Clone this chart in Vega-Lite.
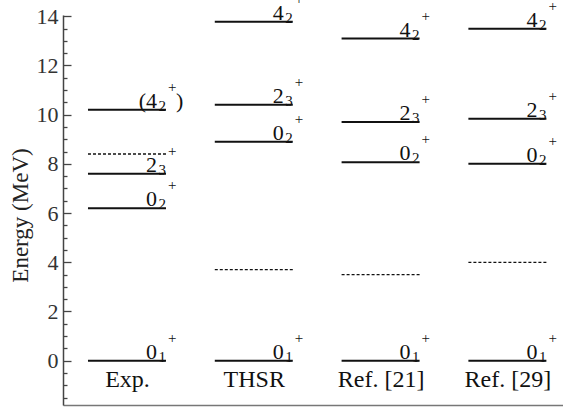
{
  "$schema": "https://vega.github.io/schema/vega-lite/v6.json",
  "width": 500,
  "height": 390,
  "autosize": {"type": "none"},
  "padding": {"left": 63, "top": 15, "right": 0, "bottom": 3},
  "background": "white",
  "config": {"view": {"stroke": null}, "font": "Liberation Serif"},
  "data": {
    "values": [
      {"model": "Exp.", "E": 0, "kind": "solid", "main": "0", "sub": "1", "sup": "+"},
      {"model": "Exp.", "E": 6.2, "kind": "solid", "main": "0", "sub": "2", "sup": "+"},
      {"model": "Exp.", "E": 7.6, "kind": "solid", "main": "2", "sub": "3", "sup": "+"},
      {"model": "Exp.", "E": 8.4, "kind": "dashed"},
      {"model": "Exp.", "E": 10.2, "kind": "solid", "main": "(4", "sub": "2", "sup": "+", "close": ")"},
      {"model": "THSR", "E": 0, "kind": "solid", "main": "0", "sub": "1", "sup": "+"},
      {"model": "THSR", "E": 3.7, "kind": "dashed"},
      {"model": "THSR", "E": 8.9, "kind": "solid", "main": "0", "sub": "2", "sup": "+"},
      {"model": "THSR", "E": 10.4, "kind": "solid", "main": "2", "sub": "3", "sup": "+"},
      {"model": "THSR", "E": 13.78, "kind": "solid", "main": "4", "sub": "2", "sup": "+"},
      {"model": "Ref. [21]", "E": 0, "kind": "solid", "main": "0", "sub": "1", "sup": "+"},
      {"model": "Ref. [21]", "E": 3.5, "kind": "dashed"},
      {"model": "Ref. [21]", "E": 8.07, "kind": "solid", "main": "0", "sub": "2", "sup": "+"},
      {"model": "Ref. [21]", "E": 9.7, "kind": "solid", "main": "2", "sub": "3", "sup": "+"},
      {"model": "Ref. [21]", "E": 13.09, "kind": "solid", "main": "4", "sub": "2", "sup": "+"},
      {"model": "Ref. [29]", "E": 0, "kind": "solid", "main": "0", "sub": "1", "sup": "+"},
      {"model": "Ref. [29]", "E": 4.0, "kind": "dashed"},
      {"model": "Ref. [29]", "E": 8.0, "kind": "solid", "main": "0", "sub": "2", "sup": "+"},
      {"model": "Ref. [29]", "E": 9.83, "kind": "solid", "main": "2", "sub": "3", "sup": "+"},
      {"model": "Ref. [29]", "E": 13.49, "kind": "solid", "main": "4", "sub": "2", "sup": "+"}
    ]
  },
  "encoding": {
    "x": {
      "field": "model",
      "type": "nominal",
      "sort": ["Exp.", "THSR", "Ref. [21]", "Ref. [29]"],
      "scale": {"type": "point", "padding": 0.4716, "align": 0.535},
      "axis": {
        "title": null,
        "orient": "bottom",
        "domain": true,
        "domainColor": "#777777",
        "domainWidth": 1.5,
        "ticks": false,
        "labelAngle": 0,
        "labelPadding": -19,
        "labelBaseline": "alphabetic",
        "labelFont": "Liberation Serif",
        "labelFontSize": 24,
        "labelColor": "#111111",
        "grid": false
      }
    },
    "y": {
      "field": "E",
      "type": "quantitative",
      "scale": {"domain": [-1.8, 14.05], "nice": false, "zero": false},
      "axis": {
        "orient": "left",
        "values": [-1.5, -1, -0.5, 0, 0.5, 1, 1.5, 2, 2.5, 3, 3.5, 4, 4.5, 5, 5.5, 6, 6.5, 7, 7.5, 8, 8.5, 9, 9.5, 10, 10.5, 11, 11.5, 12, 12.5, 13, 13.5, 14],
        "labelExpr": "datum.value % 2 == 0 ? format(datum.value, 'd') : ''",
        "labelOverlap": false,
        "title": "Energy (MeV)",
        "titleFont": "Liberation Serif",
        "titleFontSize": 23,
        "titleFontWeight": "normal",
        "titleColor": "#222222",
        "titlePadding": 4,
        "titleY": 200,
        "tickSize": {"condition": {"test": "datum.value % 2 == 0", "value": -8}, "value": -4},
        "tickColor": "#444444",
        "tickWidth": 1.3,
        "labelPadding": 13,
        "labelFont": "Liberation Serif",
        "labelFontSize": 22,
        "labelColor": "#333333",
        "domainColor": "#444444",
        "domainWidth": 1.5,
        "grid": false
      }
    }
  },
  "layer": [
    {
      "transform": [{"filter": "datum.kind == 'solid'"}],
      "mark": {"type": "rule", "strokeWidth": 2, "color": "#111111", "xOffset": -39, "x2Offset": 39},
      "encoding": {"x2": {"field": "model"}}
    },
    {
      "transform": [{"filter": "datum.kind == 'dashed'"}],
      "mark": {"type": "rule", "strokeWidth": 1.3, "strokeDash": [3, 2], "color": "#111111", "xOffset": -39, "x2Offset": 39},
      "encoding": {"x2": {"field": "model"}}
    },
    {
      "transform": [{"filter": "datum.main != null"}],
      "mark": {"type": "text", "align": "right", "baseline": "alphabetic", "dx": 30, "dy": -2, "fontSize": 22, "font": "Liberation Serif", "color": "#111111"},
      "encoding": {"text": {"field": "main", "type": "nominal"}}
    },
    {
      "transform": [{"filter": "datum.sub != null"}],
      "mark": {"type": "text", "align": "right", "baseline": "alphabetic", "dx": 39, "dy": 1, "fontSize": 15, "font": "Liberation Serif", "color": "#111111"},
      "encoding": {"text": {"field": "sub", "type": "nominal"}}
    },
    {
      "transform": [{"filter": "datum.sup != null"}],
      "mark": {"type": "text", "align": "left", "baseline": "alphabetic", "dx": 41, "dy": -18, "fontSize": 15, "font": "Liberation Serif", "color": "#111111"},
      "encoding": {"text": {"field": "sup", "type": "nominal"}}
    },
    {
      "transform": [{"filter": "datum.close != null"}],
      "mark": {"type": "text", "align": "left", "baseline": "alphabetic", "dx": 49, "dy": -2, "fontSize": 22, "font": "Liberation Serif", "color": "#111111"},
      "encoding": {"text": {"field": "close", "type": "nominal"}}
    }
  ]
}
